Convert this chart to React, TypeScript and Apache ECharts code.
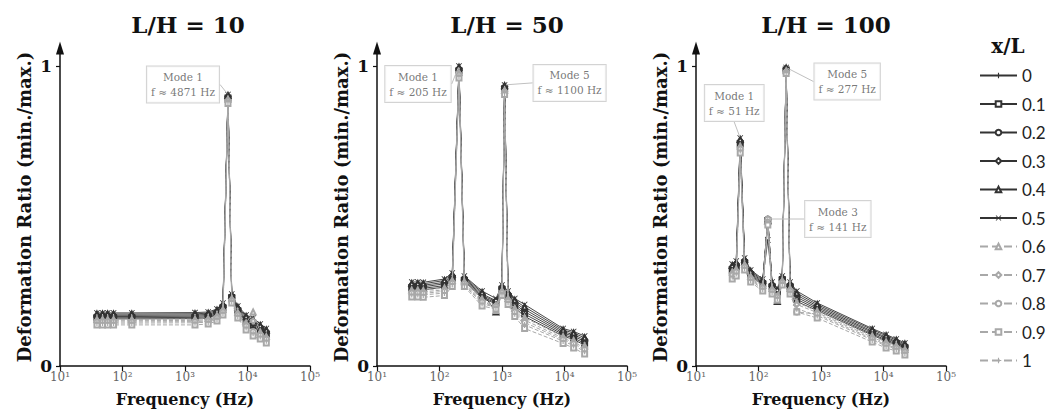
import React, { useEffect, useRef } from 'react';
import * as echarts from 'echarts';

// ---------- data ----------
const XL_LABELS = ['0', '0.1', '0.2', '0.3', '0.4', '0.5', '0.6', '0.7', '0.8', '0.9', '1'];
const PANEL_TITLES = ['L/H = 10', 'L/H = 50', 'L/H = 100'];
const X_TICK_LABELS = ['10¹', '10²', '10³', '10⁴', '10⁵'];
const Y_TICK_VALUES = [0, 1];

const FREQ_LH10 = [39, 48, 58, 72, 141, 1445, 2350, 3250, 4050, 4871, 5600, 7000, 9500, 12300, 16000, 20000];
const VALUES_LH10 = [
  [0.157, 0.157, 0.157, 0.157, 0.157, 0.158, 0.160, 0.170, 0.190, 0.890, 0.225, 0.180, 0.145, 0.130, 0.115, 0.101],
  [0.161, 0.161, 0.161, 0.161, 0.161, 0.162, 0.164, 0.174, 0.194, 0.893, 0.228, 0.184, 0.150, 0.136, 0.120, 0.106],
  [0.165, 0.165, 0.165, 0.165, 0.165, 0.166, 0.168, 0.178, 0.198, 0.896, 0.231, 0.188, 0.155, 0.142, 0.125, 0.111],
  [0.169, 0.169, 0.169, 0.169, 0.169, 0.170, 0.172, 0.182, 0.202, 0.899, 0.234, 0.192, 0.160, 0.148, 0.130, 0.115],
  [0.173, 0.173, 0.173, 0.173, 0.173, 0.174, 0.176, 0.186, 0.206, 0.902, 0.237, 0.196, 0.165, 0.154, 0.135, 0.120],
  [0.177, 0.177, 0.177, 0.177, 0.177, 0.178, 0.180, 0.190, 0.210, 0.905, 0.240, 0.200, 0.170, 0.160, 0.140, 0.125],
  [0.155, 0.155, 0.155, 0.155, 0.155, 0.156, 0.158, 0.168, 0.188, 0.889, 0.224, 0.178, 0.143, 0.180, 0.113, 0.098],
  [0.151, 0.151, 0.151, 0.151, 0.151, 0.152, 0.154, 0.164, 0.184, 0.886, 0.221, 0.174, 0.138, 0.150, 0.107, 0.094],
  [0.147, 0.147, 0.147, 0.147, 0.147, 0.148, 0.150, 0.160, 0.180, 0.883, 0.218, 0.170, 0.133, 0.115, 0.102, 0.089],
  [0.137, 0.137, 0.137, 0.137, 0.137, 0.137, 0.140, 0.150, 0.170, 0.875, 0.210, 0.160, 0.120, 0.100, 0.090, 0.077],
  [0.143, 0.143, 0.143, 0.143, 0.143, 0.144, 0.146, 0.156, 0.176, 0.880, 0.215, 0.166, 0.128, 0.109, 0.098, 0.084],
];

const FREQ_LH50 = [36, 45, 55, 120, 160, 205, 250, 480, 800, 1000, 1100, 1250, 1600, 2300, 9500, 14000, 21000];
const VALUES_LH50 = [
  [0.255, 0.255, 0.254, 0.263, 0.288, 0.980, 0.283, 0.225, 0.208, 0.253, 0.921, 0.228, 0.195, 0.165, 0.100, 0.088, 0.070],
  [0.260, 0.260, 0.259, 0.268, 0.292, 0.984, 0.286, 0.230, 0.211, 0.256, 0.924, 0.232, 0.201, 0.173, 0.105, 0.093, 0.076],
  [0.265, 0.265, 0.264, 0.274, 0.297, 0.988, 0.290, 0.235, 0.215, 0.260, 0.927, 0.237, 0.207, 0.181, 0.110, 0.099, 0.082],
  [0.270, 0.270, 0.269, 0.279, 0.301, 0.992, 0.293, 0.240, 0.218, 0.263, 0.931, 0.241, 0.213, 0.189, 0.115, 0.104, 0.088],
  [0.275, 0.275, 0.274, 0.285, 0.306, 0.996, 0.297, 0.245, 0.180, 0.267, 0.934, 0.246, 0.219, 0.197, 0.120, 0.110, 0.094],
  [0.280, 0.280, 0.279, 0.290, 0.310, 1.000, 0.300, 0.250, 0.225, 0.270, 0.937, 0.250, 0.225, 0.205, 0.125, 0.115, 0.100],
  [0.253, 0.253, 0.252, 0.260, 0.285, 0.978, 0.281, 0.223, 0.185, 0.251, 0.919, 0.225, 0.192, 0.161, 0.098, 0.085, 0.067],
  [0.248, 0.248, 0.247, 0.254, 0.281, 0.974, 0.277, 0.218, 0.202, 0.247, 0.916, 0.221, 0.186, 0.153, 0.093, 0.079, 0.061],
  [0.243, 0.243, 0.242, 0.249, 0.276, 0.970, 0.274, 0.213, 0.199, 0.244, 0.913, 0.216, 0.180, 0.145, 0.088, 0.074, 0.055],
  [0.230, 0.230, 0.229, 0.235, 0.265, 0.960, 0.265, 0.200, 0.190, 0.235, 0.905, 0.205, 0.165, 0.125, 0.075, 0.060, 0.040],
  [0.238, 0.238, 0.237, 0.243, 0.272, 0.966, 0.270, 0.208, 0.195, 0.240, 0.910, 0.212, 0.174, 0.137, 0.083, 0.068, 0.049],
];

const FREQ_LH100 = [38, 44, 51, 60, 75, 117, 141, 165, 200, 240, 277, 320, 410, 870, 6600, 11000, 16000, 22000];
const VALUES_LH100 = [
  [0.315, 0.325, 0.735, 0.340, 0.300, 0.270, 0.480, 0.260, 0.240, 0.285, 0.985, 0.260, 0.215, 0.185, 0.103, 0.083, 0.070, 0.057],
  [0.320, 0.330, 0.740, 0.344, 0.304, 0.274, 0.485, 0.264, 0.244, 0.288, 0.987, 0.264, 0.222, 0.190, 0.107, 0.087, 0.074, 0.061],
  [0.325, 0.335, 0.745, 0.348, 0.308, 0.278, 0.490, 0.268, 0.248, 0.291, 0.989, 0.268, 0.229, 0.195, 0.112, 0.092, 0.078, 0.065],
  [0.330, 0.340, 0.750, 0.352, 0.312, 0.282, 0.488, 0.272, 0.252, 0.294, 0.991, 0.272, 0.236, 0.200, 0.116, 0.096, 0.082, 0.069],
  [0.335, 0.345, 0.755, 0.356, 0.316, 0.286, 0.484, 0.276, 0.215, 0.297, 0.993, 0.276, 0.243, 0.205, 0.121, 0.101, 0.086, 0.073],
  [0.340, 0.350, 0.760, 0.360, 0.320, 0.290, 0.420, 0.280, 0.260, 0.300, 0.995, 0.280, 0.250, 0.210, 0.125, 0.105, 0.090, 0.077],
  [0.313, 0.323, 0.733, 0.338, 0.298, 0.268, 0.482, 0.258, 0.220, 0.284, 0.984, 0.258, 0.212, 0.183, 0.100, 0.080, 0.068, 0.055],
  [0.308, 0.318, 0.728, 0.334, 0.294, 0.264, 0.486, 0.254, 0.234, 0.281, 0.982, 0.254, 0.205, 0.178, 0.096, 0.076, 0.064, 0.051],
  [0.303, 0.313, 0.723, 0.330, 0.290, 0.260, 0.490, 0.250, 0.230, 0.278, 0.980, 0.250, 0.180, 0.173, 0.091, 0.071, 0.060, 0.047],
  [0.290, 0.300, 0.710, 0.320, 0.280, 0.250, 0.470, 0.240, 0.220, 0.270, 0.975, 0.240, 0.180, 0.160, 0.080, 0.060, 0.050, 0.037],
  [0.298, 0.308, 0.718, 0.326, 0.286, 0.256, 0.488, 0.246, 0.226, 0.275, 0.978, 0.246, 0.191, 0.168, 0.087, 0.067, 0.056, 0.043],
];

// mode annotations: mode number, frequency (Hz), peak value
const NOTES_LH10 = [{ mode: 1, freq: 4871, peak: 0.905 }];
const NOTES_LH50 = [
  { mode: 1, freq: 205, peak: 1.0 },
  { mode: 5, freq: 1100, peak: 0.937 },
];
const NOTES_LH100 = [
  { mode: 1, freq: 51, peak: 0.76 },
  { mode: 5, freq: 277, peak: 0.995 },
  { mode: 3, freq: 141, peak: 0.49 },
];

// ---------- layout / style ----------
const NOTE_OFFSETS = [
  [[-45, -10]],
  [[-41, 18], [65, -2]],
  [[-6, -35], [61, 14], [70, 0]],
];
const GRID_LEFTS = [60, 377, 696];
const TITLE_CENTERS = [188, 507, 826];
const GRID_TOP = 48;
const GRID_W = 250;
const GRID_H = 318;

const PLUS = 'path://M4,0H6V4H10V6H6V10H4V6H0V4H4Z';
const CROSS = 'path://M1,0L5,4L9,0L10,1L6,5L10,9L9,10L5,6L1,10L0,9L4,5L0,1Z';
const SYMBOLS = [PLUS, 'emptyRect', 'emptyCircle', 'emptyDiamond', 'emptyTriangle', CROSS,
  'emptyTriangle', 'emptyDiamond', 'emptyCircle', 'emptyRect', PLUS];
const SERIF = "'DejaVu Serif', serif";

const PANELS = [
  { freq: FREQ_LH10, values: VALUES_LH10, notes: NOTES_LH10 },
  { freq: FREQ_LH50, values: VALUES_LH50, notes: NOTES_LH50 },
  { freq: FREQ_LH100, values: VALUES_LH100, notes: NOTES_LH100 },
];

function buildOption() {
  const grid: any[] = [];
  const xAxis: any[] = [];
  const yAxis: any[] = [];
  const series: any[] = [];
  const graphic: any[] = [];

  PANELS.forEach((panel, p) => {
    grid.push({ left: GRID_LEFTS[p], top: GRID_TOP, width: GRID_W, height: GRID_H, containLabel: false });
    xAxis.push({
      gridIndex: p,
      type: 'log',
      logBase: 10,
      min: 10,
      max: 100000,
      name: 'Frequency (Hz)',
      nameLocation: 'middle',
      nameGap: 25,
      nameTextStyle: { fontFamily: SERIF, fontWeight: 'bold', fontSize: 16, color: '#111' },
      axisLine: { lineStyle: { color: '#111', width: 1.5 } },
      axisTick: { show: true, length: 5, lineStyle: { color: '#111', width: 1.2 } },
      axisLabel: {
        margin: 5,
        fontFamily: SERIF,
        fontSize: 12,
        color: '#666',
        formatter: (v: number) => X_TICK_LABELS[Math.round(Math.log10(v)) - 1] ?? '',
      },
      splitLine: { show: false },
      minorTick: { show: false },
    });
    yAxis.push({
      gridIndex: p,
      type: 'value',
      min: 0,
      max: 1.06,
      name: 'Deformation Ratio (min./max.)',
      nameLocation: 'middle',
      nameGap: 27,
      nameRotate: 90,
      nameTextStyle: { fontFamily: SERIF, fontWeight: 'bold', fontSize: 18, color: '#111' },
      axisLine: {
        show: true,
        symbol: ['none', 'triangle'],
        symbolSize: [8, 13],
        lineStyle: { color: '#111', width: 1.5 },
      },
      axisTick: { show: true, length: 4, customValues: Y_TICK_VALUES, lineStyle: { color: '#111', width: 1.2 } },
      axisLabel: {
        customValues: Y_TICK_VALUES,
        margin: 8,
        fontFamily: SERIF,
        fontWeight: 'bold',
        fontSize: 17,
        color: '#111',
        formatter: (v: number) => String(v),
      },
      splitLine: { show: false },
    });

    panel.values.forEach((vals, s) => {
      const dark = s <= 5;
      const color = dark ? '#333' : '#a8a8a8';
      const sym = SYMBOLS[s];
      const isPath = sym.startsWith('path://');
      series.push({
        type: 'line',
        name: XL_LABELS[s],
        xAxisIndex: p,
        yAxisIndex: p,
        data: panel.freq.map((f, j) => [f, vals[j]]),
        symbol: sym,
        symbolSize: isPath ? 6 : 5,
        showSymbol: true,
        lineStyle: { color, width: dark ? 0.9 : 1, type: dark ? 'solid' : 'dashed' },
        itemStyle: { color, borderWidth: 1 },
        z: dark ? 3 : 4,
        silent: true,
      });
    });

    const offsets = NOTE_OFFSETS[p];
    series.push({
      type: 'scatter',
      name: 'notes' + p,
      xAxisIndex: p,
      yAxisIndex: p,
      data: panel.notes.map((n) => [n.freq, n.peak]),
      symbol: 'circle',
      symbolSize: 3,
      itemStyle: { color: 'rgba(0,0,0,0)' },
      silent: true,
      z: 20,
      label: {
        show: true,
        position: 'inside',
        formatter: (params: any) => {
          const n = panel.notes[params.dataIndex];
          return `Mode ${n.mode}\nf ≈ ${n.freq} Hz`;
        },
        fontFamily: SERIF,
        fontSize: 10.5,
        lineHeight: 15,
        color: '#555',
        backgroundColor: '#fff',
        borderColor: '#c8c8c8',
        borderWidth: 1,
        padding: [3, 4],
        align: 'center',
      },
      labelLine: { show: true, lineStyle: { color: '#c0c0c0', width: 1 } },
      labelLayout: (params: any) => ({ dx: offsets[params.dataIndex][0], dy: offsets[params.dataIndex][1] }),
    });

    graphic.push({
      type: 'text',
      x: TITLE_CENTERS[p],
      y: 24,
      style: {
        text: PANEL_TITLES[p],
        fill: '#111',
        font: `bold 23px ${SERIF}`,
        align: 'center',
        verticalAlign: 'middle',
      },
    });
  });

  graphic.push({
    type: 'text',
    x: 1008,
    y: 46,
    style: { text: 'x/L', fill: '#111', font: `bold 20px ${SERIF}`, align: 'center', verticalAlign: 'middle' },
  });

  return {
    animation: false,
    backgroundColor: '#fff',
    grid,
    xAxis,
    yAxis,
    series,
    graphic,
    legend: {
      data: XL_LABELS,
      orient: 'vertical',
      left: 979,
      top: 67,
      padding: 0,
      itemWidth: 37,
      itemHeight: 7,
      itemGap: 11.5,
      selectedMode: false,
      textStyle: { fontFamily: 'Lato, sans-serif', fontSize: 17, color: '#222' },
    },
  };
}

export default function App() {
  const ref = useRef<HTMLDivElement>(null);
  useEffect(() => {
    if (!ref.current) return;
    const chart = echarts.init(ref.current, undefined, { renderer: 'svg' });
    chart.setOption(buildOption() as any);
    return () => chart.dispose();
  }, []);
  return <div ref={ref} style={{ position: 'fixed', left: 0, top: 0, width: 1054, height: 416, background: '#fff' }} />;
}
